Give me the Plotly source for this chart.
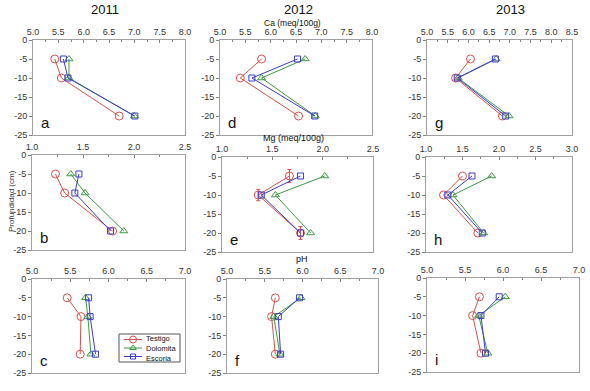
import plotly.graph_objects as go

depth = [-5, -10, -20]
series_names = ["Testigo", "Dolomita", "Escoria"]

# Ca (meq/100g)
ca_2011 = {"Testigo": [5.43, 5.56, 6.70], "Dolomita": [5.71, 5.71, 7.00], "Escoria": [5.60, 5.69, 7.01]}
ca_2012 = {"Testigo": [5.82, 5.40, 6.55], "Dolomita": [6.68, 5.82, 6.88], "Escoria": [6.53, 5.63, 6.87]}
ca_2013 = {"Testigo": [6.05, 5.69, 6.82], "Dolomita": [6.67, 5.75, 6.98], "Escoria": [6.65, 5.73, 6.90]}
# Mg (meq/100g)
mg_2011 = {"Testigo": [1.23, 1.32, 1.79], "Dolomita": [1.38, 1.52, 1.90], "Escoria": [1.46, 1.42, 1.77]}
mg_2012 = {"Testigo": [1.67, 1.36, 1.78], "Dolomita": [2.02, 1.53, 1.88], "Escoria": [1.78, 1.39, 1.78]}
mg_2013 = {"Testigo": [1.50, 1.24, 1.71], "Dolomita": [1.90, 1.37, 1.79], "Escoria": [1.63, 1.30, 1.77]}
# pH
ph_2011 = {"Testigo": [5.46, 5.64, 5.63], "Dolomita": [5.70, 5.73, 5.77], "Escoria": [5.74, 5.76, 5.83]}
ph_2012 = {"Testigo": [5.64, 5.59, 5.64], "Dolomita": [5.98, 5.62, 5.70], "Escoria": [5.96, 5.68, 5.71]}
ph_2013 = {"Testigo": [5.69, 5.60, 5.71], "Dolomita": [6.03, 5.68, 5.80], "Escoria": [5.95, 5.71, 5.77]}

mg_2012_testigo_err = [1.7, 1.5, 1.7]

letters = ["a", "d", "g", "b", "e", "h", "c", "f", "i"]
x_ranges = [[5.0, 8.0], [5.0, 8.0], [5.0, 8.5], [1.0, 2.5], [1.0, 2.5], [1.0, 3.0],
            [5.0, 7.0], [5.0, 7.0], [5.0, 7.0]]
y_ticks = [0, -5, -10, -15, -20, -25]

W, H = 590, 391
# pixel boxes (left, right, top, bottom)
boxes = [(33, 185, 40, 135), (220, 372, 40, 135), (427, 572, 40, 135),
         (32, 185, 155, 250), (222, 373, 157, 252), (426, 572, 157, 252),
         (32, 185, 279, 373), (227, 378, 279, 373), (427, 579, 278, 372)]

panels = [ca_2011, ca_2012, ca_2013, mg_2011, mg_2012, mg_2013, ph_2011, ph_2012, ph_2013]

colors = {"Testigo": "#d9504c", "Dolomita": "#3f9a45", "Escoria": "#3c3cc8"}
symbols = {"Testigo": "circle-open", "Dolomita": "triangle-up-open", "Escoria": "square-open"}
msize = {"Testigo": 8, "Dolomita": 7, "Escoria": 6}

fig = go.Figure()
font_family = "Liberation Sans, Arial, sans-serif"

for i, data in enumerate(panels):
    n = i + 1
    xa = "x" if n == 1 else f"x{n}"
    ya = "y" if n == 1 else f"y{n}"
    for name in series_names:
        err = None
        if i == 4 and name == "Testigo":
            err = dict(type="data", array=mg_2012_testigo_err, visible=True,
                       color=colors[name], thickness=1, width=2)
        fig.add_trace(go.Scatter(
            x=data[name], y=depth, mode="lines+markers", name=name,
            xaxis=xa, yaxis=ya, showlegend=False,
            line=dict(color=colors[name], width=1),
            marker=dict(symbol=symbols[name], size=msize[name], color=colors[name],
                        line=dict(width=1, color=colors[name])),
            error_y=err,
        ))
    l, r, t, b = boxes[i]
    xr = x_ranges[i]
    axis_common = dict(showline=True, linecolor="#a0a0a0", linewidth=1, mirror=True,
                       showgrid=False, zeroline=False, automargin=False,
                       tickcolor="#808080", tickfont=dict(size=9, color="#333333", family=font_family))
    fig.update_layout(**{
        ("xaxis" if n == 1 else f"xaxis{n}"): dict(
            domain=[l / W, r / W], anchor=ya, side="top", range=xr, dtick=0.5,
            tickformat=".1f", ticks="inside", ticklen=3,
            minor=dict(dtick=0.25, ticks="inside", ticklen=2, tickcolor="#808080"),
            **axis_common),
        ("yaxis" if n == 1 else f"yaxis{n}"): dict(
            domain=[1 - b / H, 1 - t / H], anchor=xa, range=[-25, 0],
            tickvals=y_ticks, ticktext=[str(v) for v in y_ticks],
            ticks="outside", ticklen=3,
            **axis_common),
    })
    fig.add_annotation(x=(l + 6) / W, y=1 - (b - 2) / H, xref="paper", yref="paper",
                       text=letters[i], showarrow=False, xanchor="left", yanchor="bottom",
                       font=dict(size=15, color="#111111", family=font_family))

# Legend drawn inside panel c on its own hidden axis (pixel-like units inside the box)
leg_l, leg_r, leg_t, leg_b = 119, 180, 334, 362
fig.add_shape(type="rect", xref="paper", yref="paper",
              x0=leg_l / W, x1=leg_r / W, y0=1 - leg_b / H, y1=1 - leg_t / H,
              line=dict(color="#555555", width=1), fillcolor="rgba(0,0,0,0)", layer="above")
fig.update_layout(
    xaxis10=dict(domain=[leg_l / W, leg_r / W], range=[0, leg_r - leg_l], visible=False, fixedrange=True),
    yaxis10=dict(domain=[1 - leg_b / H, 1 - leg_t / H], range=[leg_b - leg_t, 0], visible=False,
                 anchor="x10", fixedrange=True),
)
leg_rows = [5.5, 14, 22.5]
for k, name in enumerate(series_names):
    row = leg_rows[k]
    fig.add_trace(go.Scatter(x=[5, 23], y=[row, row], mode="lines", xaxis="x10", yaxis="y10",
                             line=dict(color=colors[name], width=1), showlegend=False,
                             hoverinfo="skip"))
    fig.add_trace(go.Scatter(x=[14], y=[row], mode="markers", xaxis="x10", yaxis="y10",
                             marker=dict(symbol=symbols[name], size=msize[name] - 1,
                                         color=colors[name], line=dict(width=1, color=colors[name])),
                             showlegend=False, hoverinfo="skip"))
fig.add_annotation(x=25, y=14, xref="x10", yref="y10", text="<br>".join(series_names),
                   showarrow=False, xanchor="left", yanchor="middle", align="left",
                   font=dict(size=7.5, color="#111111", family=font_family))

annos = [
    ("2011", 105, 10, 13), ("2012", 298, 10, 13), ("2013", 510, 10, 13),
    ("Ca (meq/100g)", 292, 23, 8.5), ("Mg (meq/100g)", 293, 138, 9), ("pH", 302, 259, 9),
]
for txt, x, y, s in annos:
    fig.add_annotation(x=x / W, y=1 - y / H, xref="paper", yref="paper", text=txt,
                       showarrow=False, xanchor="center", yanchor="middle",
                       font=dict(size=s, color="#111111", family=font_family))

fig.add_annotation(x=11 / W, y=1 - 201 / H, xref="paper", yref="paper", text="Profundidad (cm)",
                   textangle=-90, showarrow=False, xanchor="center", yanchor="middle",
                   font=dict(size=8, color="#333333", family=font_family))

fig.update_layout(
    width=W, height=H, margin=dict(l=0, r=0, t=0, b=0),
    paper_bgcolor="white", plot_bgcolor="rgba(0,0,0,0)", showlegend=False,
)

fig.write_html("out.html", config={"displayModeBar": False},
               post_script="document.body.style.margin='0';document.body.style.overflow='hidden';")
